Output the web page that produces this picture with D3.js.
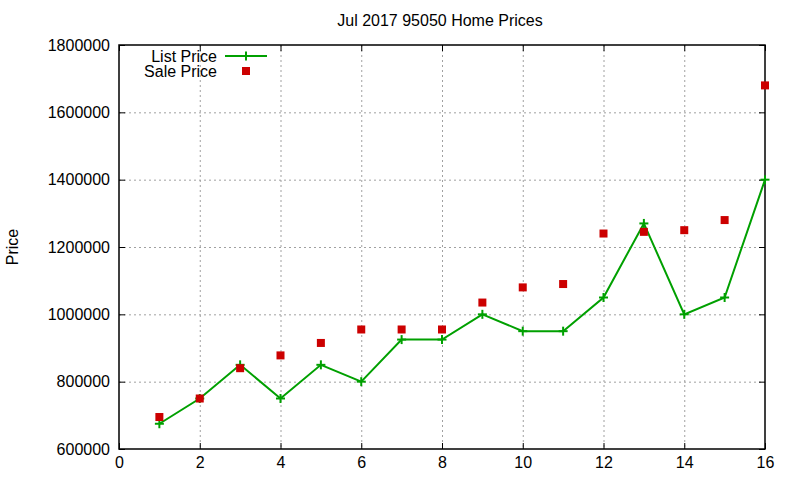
<!DOCTYPE html>
<html>
<head>
<meta charset="utf-8">
<script src="https://cdn.jsdelivr.net/npm/d3@7"></script>
<style>
  body { margin: 0; background: #fff; }
  svg { display: block; font-family: "Liberation Sans", Arial, sans-serif; }
</style>
</head>
<body>
<svg id="chart" width="800" height="480"></svg>
<script>
// data
const months = [1, 2, 3, 4, 5, 6, 7, 8, 9, 10, 11, 12, 13, 14, 15, 16];
const listPrice = [675000, 750000, 850000, 750000, 850000, 800000, 925000, 925000,
  1000000, 950000, 950000, 1050000, 1270000, 1000000, 1050000, 1400000];
const salePrice = [695000, 750000, 840000, 878000, 915000, 955000, 955000, 955000,
  1035000, 1080000, 1090000, 1240000, 1245000, 1250000, 1280000, 1680000];
const xTicks = [0, 2, 4, 6, 8, 10, 12, 14, 16];
const yTicks = [600000, 800000, 1000000, 1200000, 1400000, 1600000, 1800000];

const svg = d3.select("#chart");
const plotL = 119, plotR = 765, plotT = 45, plotB = 449;
const green = "#00a000", red = "#cc0000";
const fs = 16;

const x = d3.scaleLinear().domain([0, 16]).range([plotL, plotR]);
const y = d3.scaleLinear().domain([600000, 1800000]).range([plotB, plotT]);

// grid
const grid = svg.append("g")
  .attr("stroke", "#a0a0a0")
  .attr("stroke-dasharray", "2,3")
  .attr("stroke-width", 1);
grid.selectAll(".gx").data(xTicks.slice(1, -1)).enter().append("line")
  .attr("x1", d => x(d) + 0.5).attr("x2", d => x(d) + 0.5)
  .attr("y1", plotT).attr("y2", plotB);
grid.selectAll(".gy").data(yTicks.slice(1, -1)).enter().append("line")
  .attr("x1", plotL).attr("x2", plotR)
  .attr("y1", d => y(d) + 0.5).attr("y2", d => y(d) + 0.5);

// axes (ticks mirrored inside like gnuplot)
const xAxis = d3.axisBottom(x).tickValues(xTicks).tickSizeInner(-6).tickSizeOuter(0).tickPadding(8);
const yAxis = d3.axisLeft(y).tickValues(yTicks).tickSizeInner(-6).tickSizeOuter(0).tickPadding(9)
  .tickFormat(d3.format("d"));
const xTop = d3.axisTop(x).tickValues(xTicks).tickSizeInner(-6).tickSizeOuter(0).tickFormat("");
const yRight = d3.axisRight(y).tickValues(yTicks).tickSizeInner(-6).tickSizeOuter(0).tickFormat("");

[
  [xAxis, `translate(0,${plotB})`],
  [yAxis, `translate(${plotL},0)`],
  [xTop, `translate(0,${plotT})`],
  [yRight, `translate(${plotR},0)`]
].forEach(([ax, tr]) => {
  const g = svg.append("g").attr("transform", tr).call(ax);
  g.select(".domain").remove();
  g.selectAll("line").attr("stroke", "#000");
  g.selectAll("text").attr("font-size", fs).attr("fill", "#000")
    .attr("font-family", "Liberation Sans, Arial, sans-serif");
});

svg.append("rect")
  .attr("x", plotL).attr("y", plotT)
  .attr("width", plotR - plotL).attr("height", plotB - plotT)
  .attr("fill", "none").attr("stroke", "#000").attr("stroke-width", 1.5);

// title and axis label
svg.append("text").attr("x", 440).attr("y", 26).attr("text-anchor", "middle")
  .attr("font-size", fs).text("Jul 2017 95050 Home Prices");
svg.append("text").attr("transform", "translate(18,247) rotate(-90)")
  .attr("text-anchor", "middle").attr("font-size", fs).text("Price");

// list price line
const listData = months.map((m, i) => [m, listPrice[i]]);
svg.append("path").datum(listData)
  .attr("fill", "none").attr("stroke", green).attr("stroke-width", 2)
  .attr("d", d3.line().x(d => x(d[0])).y(d => y(d[1])));

const plus = (g, cx, cy) => {
  g.append("line").attr("x1", cx - 4.5).attr("x2", cx + 4.5).attr("y1", cy).attr("y2", cy);
  g.append("line").attr("x1", cx).attr("x2", cx).attr("y1", cy - 4.5).attr("y2", cy + 4.5);
};
const plusG = svg.append("g").attr("stroke", green).attr("stroke-width", 2);
listData.forEach(d => plus(plusG, x(d[0]), y(d[1])));

// sale price points
svg.append("g").selectAll("rect").data(months).enter().append("rect")
  .attr("x", (d, i) => x(d) - 4).attr("y", (d, i) => y(salePrice[i]) - 4)
  .attr("width", 8).attr("height", 8).attr("fill", red);

// legend
const lg = svg.append("g").attr("font-size", fs);
lg.append("text").attr("x", 217).attr("y", 61.5).attr("text-anchor", "end").text("List Price");
lg.append("text").attr("x", 217).attr("y", 76.5).attr("text-anchor", "end").text("Sale Price");
lg.append("line").attr("x1", 225).attr("x2", 267).attr("y1", 56).attr("y2", 56)
  .attr("stroke", green).attr("stroke-width", 2);
const lp = lg.append("g").attr("stroke", green).attr("stroke-width", 2);
plus(lp, 246, 56);
lg.append("rect").attr("x", 242).attr("y", 67).attr("width", 8).attr("height", 8).attr("fill", red);
</script>
</body>
</html>
